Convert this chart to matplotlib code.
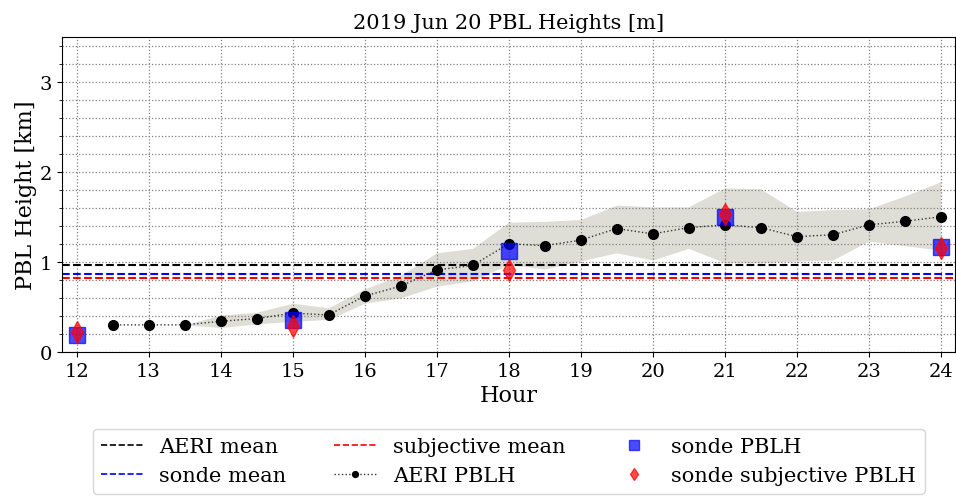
import numpy as np
import matplotlib.pyplot as plt

plt.rcParams['font.family'] = 'DejaVu Serif'

# AERI retrievals every half hour
aeri_hour = [12.5, 13, 13.5, 14, 14.5, 15, 15.5, 16, 16.5, 17, 17.5, 18,
             18.5, 19, 19.5, 20, 20.5, 21, 21.5, 22, 22.5, 23, 23.5, 24]
aeri_pblh = [0.30, 0.30, 0.30, 0.34, 0.37, 0.43, 0.41, 0.62, 0.73, 0.91, 0.96, 1.20,
             1.18, 1.24, 1.37, 1.31, 1.38, 1.41, 1.38, 1.28, 1.30, 1.41, 1.45, 1.50]
aeri_lo = [0.30, 0.30, 0.30, 0.27, 0.31, 0.34, 0.36, 0.54, 0.60, 0.73, 0.79, 0.97,
           0.92, 1.01, 1.10, 1.02, 1.15, 0.99, 0.99, 1.01, 1.02, 1.23, 1.18, 1.13]
aeri_hi = [0.30, 0.30, 0.30, 0.41, 0.44, 0.54, 0.49, 0.70, 0.85, 1.10, 1.15, 1.44,
           1.45, 1.47, 1.63, 1.61, 1.61, 1.82, 1.81, 1.56, 1.58, 1.59, 1.73, 1.89]

# radiosonde launches
sonde_hour = [12, 15, 18, 21, 24]
sonde_pblh = [0.19, 0.35, 1.12, 1.50, 1.16]
sonde_subj = [0.22, 0.29, 0.91, 1.53, 1.15]

fig, ax = plt.subplots(figsize=(9.56, 5.02), dpi=100)
fig.subplots_adjust(left=0.065, right=0.999, top=0.925, bottom=0.297)

ax.axhline(np.mean(aeri_pblh), color='k', ls='--', lw=1.5, label='AERI mean')
ax.axhline(np.mean(sonde_pblh), color='b', ls='--', lw=1.5, label='sonde mean')
ax.axhline(np.mean(sonde_subj), color='r', ls='--', lw=1.5, label='subjective mean')

ax.fill_between(aeri_hour, aeri_lo, aeri_hi, color='#c8c8bc', alpha=0.6, lw=0)
ax.plot(aeri_hour, aeri_pblh, color='#333333', ls=':', lw=1, marker='o', ms=7,
        mfc='k', mec='k', label='AERI PBLH')
ax.plot(sonde_hour, sonde_pblh, ls='none', marker='s', ms=11, color='b',
        alpha=0.7, label='sonde PBLH')
ax.plot(sonde_hour, sonde_subj, ls='none', marker='d', ms=11, color='r',
        alpha=0.7, label='sonde subjective PBLH')

ax.set_xlim(11.8, 24.2)
ax.set_ylim(0, 3.5)
ax.set_xticks(np.arange(12, 25))
ax.set_yticks([0, 1, 2, 3])
ax.set_yticks(np.arange(0, 3.5, 0.2), minor=True)
ax.tick_params(labelsize=14)
ax.grid(True, which='both', ls=':', color='gray', lw=0.9)

ax.set_xlabel('Hour', fontsize=16, labelpad=3)
ax.set_ylabel('PBL Height [km]', fontsize=16, labelpad=2)
ax.set_title('2019 Jun 20 PBL Heights [m]', fontsize=15)

leg = ax.legend(loc='upper center', bbox_to_anchor=(0.5, -0.21), ncol=3,
                fontsize=15, columnspacing=2.3, handlelength=2.0,
                markerscale=0.6)
for h in leg.get_lines()[:3]:
    h.set_linewidth(1.2)

plt.savefig('out.png', dpi=100)
